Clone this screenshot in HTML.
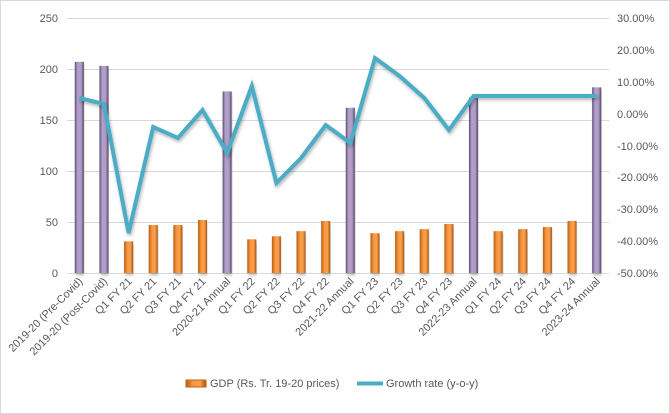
<!DOCTYPE html>
<html><head><meta charset="utf-8"><style>
html,body{margin:0;padding:0;background:#fff;}
svg{display:block;font-family:"Liberation Sans",sans-serif;}
</style></head><body>
<svg width="670" height="414" viewBox="0 0 670 414" xmlns="http://www.w3.org/2000/svg">
<defs>
<linearGradient id="org" x1="0" x2="1" y1="0" y2="0">
<stop offset="0" stop-color="#b85e12"/><stop offset="0.35" stop-color="#f7963f"/><stop offset="0.7" stop-color="#f9a04f"/><stop offset="1" stop-color="#a9520c"/>
</linearGradient>
<linearGradient id="pur" x1="0" x2="1" y1="0" y2="0">
<stop offset="0" stop-color="#5b4a73"/><stop offset="0.3" stop-color="#b3a1cb"/><stop offset="0.7" stop-color="#ad9cc6"/><stop offset="1" stop-color="#564569"/>
</linearGradient>
<filter id="sh" x="-5%" y="-10%" width="110%" height="130%"><feDropShadow dx="1" dy="2" stdDeviation="1.5" flood-color="#000" flood-opacity="0.3"/></filter>
</defs>
<rect x="0.5" y="0.5" width="669" height="413" fill="#fff" stroke="#d9d9d9"/>
<g stroke="#d9d9d9" stroke-width="1">
<line x1="67" x2="609" y1="18.5" y2="18.5"/>
<line x1="67" x2="609" y1="69.5" y2="69.5"/>
<line x1="67" x2="609" y1="120.5" y2="120.5"/>
<line x1="67" x2="609" y1="171.5" y2="171.5"/>
<line x1="67" x2="609" y1="222.5" y2="222.5"/>
<line x1="67" x2="609" y1="273.5" y2="273.5"/>
</g>
<g font-size="11" fill="#595959" text-anchor="end">
<text x="58" y="22">250</text><text x="58" y="73">200</text><text x="58" y="124">150</text><text x="58" y="175">100</text><text x="58" y="226">50</text><text x="58" y="277">0</text>
</g>
<g font-size="11" fill="#595959" text-anchor="start">
<text x="617" y="22">30.00%</text><text x="617" y="54">20.00%</text><text x="617" y="86">10.00%</text><text x="617" y="118">0.00%</text><text x="617" y="150">-10.00%</text><text x="617" y="181">-20.00%</text><text x="617" y="213">-30.00%</text><text x="617" y="245">-40.00%</text><text x="617" y="277">-50.00%</text>
</g>
<g id="bars"></g>
<polyline fill="none" stroke="#4bacc6" stroke-width="4" stroke-linejoin="miter" filter="url(#sh)" points="79.3,98 103.9,104 128.6,233 153.2,127 177.9,138 202.5,110 227.2,153 251.8,86 276.4,183 301.1,158 325.7,125 350.4,143 375,58 399.6,76 424.3,98 448.9,130 473.6,96 498.2,96 522.9,96 547.5,96 572.1,96 596.8,96"/>
<g id="labels" font-size="11" fill="#595959"></g>
<rect x="186" y="380" width="20" height="7" fill="url(#org)" stroke="#c06010"/>
<text x="210" y="387" font-size="11" fill="#595959">GDP (Rs. Tr. 19-20 prices)</text>
<line x1="357" x2="383" y1="383.5" y2="383.5" stroke="#4bacc6" stroke-width="4"/>
<text x="386" y="387" font-size="11" fill="#595959">Growth rate (y-o-y)</text>
<script>
var v=[207,203,31,47,47,52,178,33,36,41,51,162,39,41,43,48,172,41,43,45,51,182];
var ann=[0,1,6,11,16,21];
var lab=["2019-20 (Pre-Covid)","2019-20 (Post-Covid)","Q1 FY 21","Q2 FY 21","Q3 FY 21","Q4 FY 21","2020-21 Annual","Q1 FY 22","Q2 FY 22","Q3 FY 22","Q4 FY 22","2021-22 Annual","Q1 FY 23","Q2 FY 23","Q3 FY 23","Q4 FY 23","2022-23 Annual","Q1 FY 24","Q2 FY 24","Q3 FY 24","Q4 FY 24","2023-24 Annual"];
var ns="http://www.w3.org/2000/svg",b=document.getElementById("bars"),l=document.getElementById("labels");
for(var i=0;i<22;i++){var cx=67+24.636*(i+0.5);var h=v[i]*1.02;var p=ann.indexOf(i)>=0;
var r=document.createElementNS(ns,"rect");r.setAttribute("x",cx-4.5);r.setAttribute("y",273-h);r.setAttribute("width",9);r.setAttribute("height",h);
r.setAttribute("fill",p?"url(#pur)":"url(#org)");r.setAttribute("filter","url(#sh)");b.appendChild(r);
var t=document.createElementNS(ns,"text");t.setAttribute("text-anchor","end");t.setAttribute("transform","translate("+(cx+4)+",282) rotate(-45)");t.textContent=lab[i];l.appendChild(t);}
</script>
</svg>
</body></html>
